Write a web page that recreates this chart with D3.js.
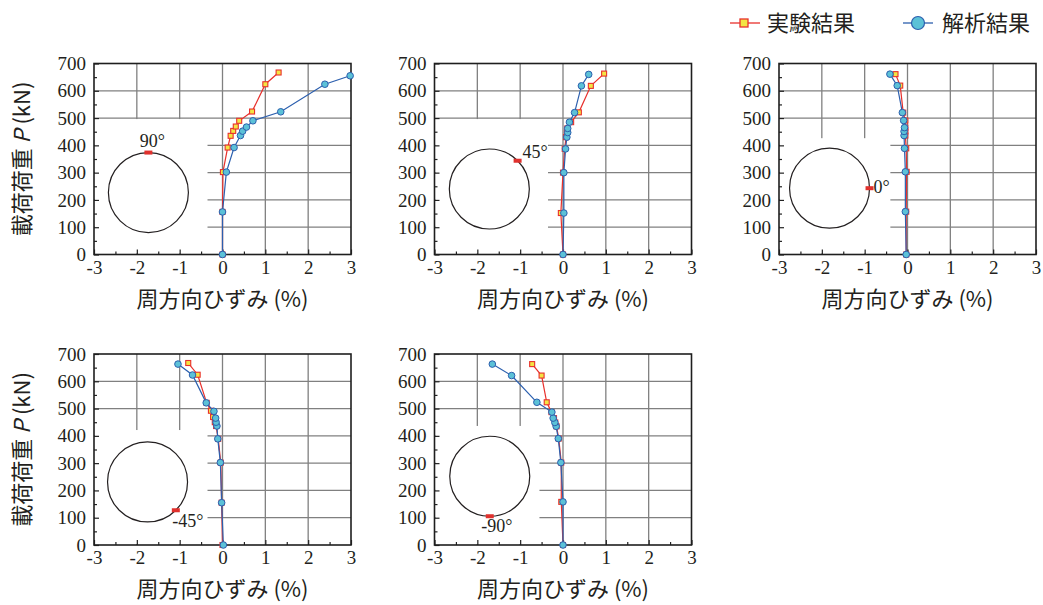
<!DOCTYPE html>
<html>
<head>
<meta charset="utf-8">
<script src="https://cdn.jsdelivr.net/npm/d3@7"></script>
<style>
  body { margin: 0; background: #fff; }
  svg { display: block; }
  .num { font-family: "Liberation Serif", "Times New Roman", serif; }
  .jp { font-family: "Noto Sans CJK JP", "Noto Sans", sans-serif; }
</style>
</head>
<body>
<svg id="chart" width="1043" height="605"></svg>
<script>
// tick values
const strainTicks = [-3, -2, -1, 0, 1, 2, 3];
const strainMinor = [-2.5, -1.5, -0.5, 0.5, 1.5, 2.5];
const loadTicks = [0, 100, 200, 300, 400, 500, 600, 700];
const loadMinor = [50, 150, 250, 350, 450, 550, 650];

const seriesNames = ['実験結果', '解析結果'];
const xTitle = '周方向ひずみ (%)';

// [strain %, load kN]
const exp90 = [[0, 0], [0, 156], [0.01, 302], [0.12, 392], [0.19, 435], [0.25, 453], [0.31, 469], [0.39, 490], [0.69, 524], [1.0, 624], [1.31, 667]];
const ana90 = [[0, 0], [0, 156], [0.09, 302], [0.27, 392], [0.42, 436], [0.47, 452], [0.56, 467], [0.71, 490], [1.36, 523], [2.39, 624], [2.98, 655]];

const exp45 = [[0, 0], [-0.05, 152], [0, 300], [0.04, 387], [0.07, 430], [0.09, 447], [0.1, 462], [0.19, 485], [0.37, 521], [0.65, 618], [0.96, 663]];
const ana45 = [[0, 0], [0.02, 152], [0.02, 300], [0.06, 387], [0.09, 430], [0.11, 447], [0.11, 462], [0.15, 485], [0.27, 520], [0.43, 618], [0.6, 660]];

const exp0 = [[-0.03, 0], [-0.03, 157], [-0.02, 303], [-0.03, 389], [-0.05, 436], [-0.05, 451], [-0.05, 465], [-0.05, 491], [-0.1, 520], [-0.17, 619], [-0.28, 661]];
const ana0 = [[-0.03, 0], [-0.05, 157], [-0.05, 303], [-0.07, 389], [-0.08, 436], [-0.08, 451], [-0.07, 465], [-0.09, 491], [-0.12, 520], [-0.24, 619], [-0.41, 661]];

const expM45 = [[0, 0], [-0.02, 155], [-0.04, 302], [-0.1, 389], [-0.15, 436], [-0.18, 450], [-0.22, 469], [-0.27, 492], [-0.37, 521], [-0.58, 624], [-0.8, 667]];
const anaM45 = [[0.02, 0], [-0.02, 155], [-0.05, 302], [-0.11, 389], [-0.13, 436], [-0.15, 450], [-0.16, 465], [-0.2, 490], [-0.38, 521], [-0.7, 623], [-1.04, 663]];

const expM90 = [[0, 0], [-0.04, 158], [-0.04, 302], [-0.1, 390], [-0.15, 435], [-0.18, 449], [-0.21, 465], [-0.27, 487], [-0.38, 523], [-0.5, 621], [-0.72, 663]];
const anaM90 = [[0, 0], [0, 158], [-0.05, 302], [-0.11, 390], [-0.16, 435], [-0.19, 449], [-0.23, 465], [-0.26, 487], [-0.61, 523], [-1.2, 621], [-1.65, 663]];

// layout
const colLeft = [94, 434.5, 779];
const rowTop = [63.5, 354];
const plotW = 257, plotH = 191;
const ringR = 40;

const panels = [
  { angle: 90, exp: exp90, ana: ana90, col: 0, row: 0, ring: [-1.73, 227], note: [4, -6, 'middle'], mask: [-0.35, 500] },
  { angle: 45, exp: exp45, ana: ana45, col: 1, row: 0, ring: [-1.72, 240], note: [5, -3, 'start'], mask: [-0.35, 500] },
  { angle: 0, exp: exp0, ana: ana0, col: 2, row: 0, ring: [-1.82, 243], note: [4, 5, 'start'], mask: [-0.4, 430] },
  { angle: -45, exp: expM45, ana: anaM45, col: 0, row: 1, ring: [-1.75, 231], note: [-3.5, 17, 'start'], mask: [-0.35, 425] },
  { angle: -90, exp: expM90, ana: anaM90, col: 1, row: 1, ring: [-1.71, 252], note: [7, 16, 'middle'], mask: [-0.55, 440] }
];

const red = '#e8302c', yellow = '#f3e443', blue = '#2c5fae', cyan = '#5cc1d7';

const svg = d3.select('#chart');

panels.forEach(drawPanel);
drawLegend();

function drawPanel(p) {
  const left = colLeft[p.col], top = rowTop[p.row];
  const x = d3.scaleLinear().domain([-3, 3]).range([left, left + plotW]);
  const y = d3.scaleLinear().domain([0, 700]).range([top + plotH, top]);
  const g = svg.append('g');

  // grid
  g.selectAll('.vg').data(strainTicks.slice(1, -1)).join('line')
    .attr('x1', d => x(d)).attr('x2', d => x(d))
    .attr('y1', y(0)).attr('y2', y(700))
    .attr('stroke', '#808080').attr('stroke-width', 1.3);
  g.selectAll('.hg').data(loadTicks.slice(1, -1)).join('line')
    .attr('x1', x(-3)).attr('x2', x(3))
    .attr('y1', d => y(d)).attr('y2', d => y(d))
    .attr('stroke', '#808080').attr('stroke-width', 1.3);

  // white box behind the section sketch
  g.append('rect')
    .attr('x', x(-3) + 1).attr('y', y(p.mask[1]) + 1)
    .attr('width', x(p.mask[0]) - x(-3) - 1)
    .attr('height', y(0) - y(p.mask[1]) - 2)
    .attr('fill', '#fff');

  // axes
  const xAxis = g.append('g').attr('transform', `translate(0,${y(0)})`)
    .call(d3.axisBottom(x).tickValues(strainTicks).tickSize(-5).tickPadding(6).tickFormat(d3.format('d')));
  g.append('g').attr('transform', `translate(0,${y(0)})`)
    .call(d3.axisBottom(x).tickValues(strainMinor).tickSize(-3).tickFormat(''));
  g.append('g').attr('transform', `translate(${x(-3)},0)`)
    .call(d3.axisLeft(y).tickValues(loadTicks).tickSize(-5).tickPadding(8));
  g.append('g').attr('transform', `translate(${x(-3)},0)`)
    .call(d3.axisLeft(y).tickValues(loadMinor).tickSize(-3).tickFormat(''));
  g.selectAll('.domain').remove();
  g.selectAll('.tick line').attr('stroke', '#222').attr('stroke-width', 1.2);
  g.selectAll('.tick text')
    .attr('font-family', null).attr('class', 'num')
    .style('font-size', '19px').attr('fill', '#231f20');
  xAxis.selectAll('.tick text').text(d => d < 0 ? '-' + Math.abs(d) : d);

  g.append('rect')
    .attr('x', x(-3)).attr('y', y(700))
    .attr('width', x(3) - x(-3)).attr('height', y(0) - y(700))
    .attr('fill', 'none').attr('stroke', '#1e1e1e').attr('stroke-width', 1.6);

  // titles
  g.append('text').attr('class', 'jp')
    .attr('x', (x(-3) + x(3)) / 2).attr('y', y(0) + 52)
    .attr('text-anchor', 'middle')
    .style('font-size', '22px').attr('fill', '#231f20')
    .text(xTitle);

  if (p.col === 0) {
    const t = g.append('text').attr('class', 'jp')
      .attr('transform', `translate(${left - 64},${(y(0) + y(700)) / 2}) rotate(-90)`)
      .attr('text-anchor', 'middle')
      .style('font-size', '22px').attr('fill', '#231f20');
    t.append('tspan').text('載荷荷重 ');
    t.append('tspan').attr('font-style', 'italic').text('P');
    t.append('tspan').text(' (kN)');
  }

  // section sketch with gauge position
  const cx = x(p.ring[0]), cy = y(p.ring[1]);
  const a = p.angle * Math.PI / 180;
  const mx = cx + ringR * Math.cos(a), my = cy - ringR * Math.sin(a);
  g.append('circle')
    .attr('cx', cx).attr('cy', cy).attr('r', ringR)
    .attr('fill', 'none').attr('stroke', '#231f20').attr('stroke-width', 1.2);
  g.append('rect')
    .attr('x', mx - 4).attr('y', my - 2).attr('width', 8).attr('height', 4)
    .attr('fill', '#e0312d');
  g.append('text').attr('class', 'num')
    .attr('x', mx + p.note[0]).attr('y', my + p.note[1])
    .attr('text-anchor', p.note[2])
    .style('font-size', '18px').attr('fill', '#231f20')
    .text(p.angle + '°');

  // series
  const line = d3.line().x(d => x(d[0])).y(d => y(d[1]));
  g.append('path').datum(p.exp)
    .attr('d', line).attr('fill', 'none').attr('stroke', red).attr('stroke-width', 1.2);
  g.selectAll('.sq').data(p.exp).join('rect')
    .attr('x', d => x(d[0]) - 2.5).attr('y', d => y(d[1]) - 2.5)
    .attr('width', 5).attr('height', 5)
    .attr('fill', yellow).attr('stroke', red).attr('stroke-width', 1.1);

  g.append('path').datum(p.ana)
    .attr('d', line).attr('fill', 'none').attr('stroke', blue).attr('stroke-width', 1.2);
  g.selectAll('.dot').data(p.ana).join('circle')
    .attr('cx', d => x(d[0])).attr('cy', d => y(d[1])).attr('r', 3.3)
    .attr('fill', cyan).attr('stroke', blue).attr('stroke-width', 1);
}

function drawLegend() {
  const g = svg.append('g');
  g.append('line').attr('x1', 730).attr('x2', 760).attr('y1', 23).attr('y2', 23)
    .attr('stroke', red).attr('stroke-width', 1.3);
  g.append('rect').attr('x', 740).attr('y', 19).attr('width', 8).attr('height', 8)
    .attr('fill', yellow).attr('stroke', red).attr('stroke-width', 1.3);
  g.append('text').attr('class', 'jp').attr('x', 767).attr('y', 31)
    .style('font-size', '22px').attr('fill', '#231f20')
    .text(seriesNames[0]);

  g.append('line').attr('x1', 903).attr('x2', 933).attr('y1', 23).attr('y2', 23)
    .attr('stroke', blue).attr('stroke-width', 1.3);
  g.append('circle').attr('cx', 918).attr('cy', 23).attr('r', 6.5)
    .attr('fill', cyan).attr('stroke', blue).attr('stroke-width', 1.2);
  g.append('text').attr('class', 'jp').attr('x', 942).attr('y', 31)
    .style('font-size', '22px').attr('fill', '#231f20')
    .text(seriesNames[1]);
}
</script>
</body>
</html>
